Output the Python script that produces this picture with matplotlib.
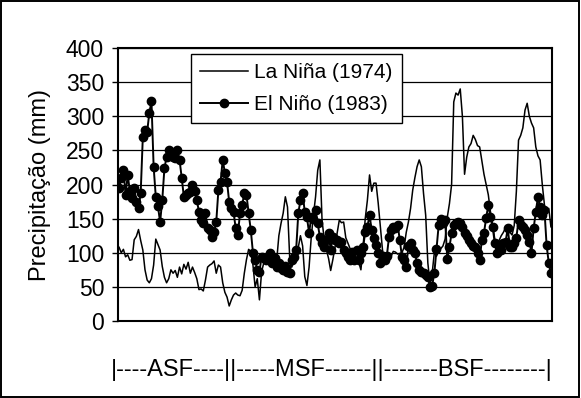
import matplotlib
matplotlib.use("Agg")
import matplotlib.pyplot as plt
import matplotlib.patches as patches
import numpy as np

plt.rcParams['font.family'] = ['Liberation Sans', 'DejaVu Sans']

# precipitation (mm) per station, ordered along the ASF / MSF / BSF regions
la_nina_1974 = [
    108, 100, 105, 94, 97, 89, 90, 119, 124, 134,
    118, 104, 75, 60, 56, 62, 82, 120, 112, 104,
    80, 64, 56, 62, 75, 70, 74, 64, 79, 69,
    83, 76, 86, 70, 79, 71, 62, 46, 47, 44,
    60, 79, 82, 84, 88, 70, 82, 79, 56, 42,
    35, 22, 31, 38, 41, 38, 37, 45, 70, 90,
    105, 102, 82, 50, 62, 31, 72, 85, 89, 93,
    100, 90, 82, 89, 125, 143, 158, 182, 167, 94,
    79, 88, 100, 108, 125, 110, 65, 52, 79, 123,
    155, 182, 221, 236, 148, 119, 104, 92, 74, 90,
    108, 129, 148, 144, 145, 122, 114, 106, 100, 96,
    90, 86, 75, 108, 150, 177, 214, 190, 202, 202,
    173, 138, 104, 90, 98, 97, 95, 102, 101, 98,
    99, 100, 108, 130, 145, 165, 192, 210, 226, 236,
    226, 187, 155, 85, 55, 70, 100, 95, 102, 106,
    110, 120, 152, 172, 200, 321, 334, 331, 340, 300,
    215, 240, 255, 260, 272, 266, 257, 255, 235, 215,
    200, 185, 160, 140, 120, 114, 118, 125, 130, 137,
    129, 130, 126, 140, 190, 265, 272, 283, 309, 319,
    300, 290, 283, 255, 242, 236, 200, 170, 160, 165,
    138,
]

el_nino_1983 = [
    195, 210, 221, 185, 214, 190, 180, 195, 174, 165,
    187, 270, 280, 277, 305, 322, 226, 182, 168, 145,
    177, 224, 240, 250, 245, 241, 239, 250, 236, 210,
    182, 185, 187, 189, 200, 190, 177, 160, 148, 143,
    158, 136, 133, 123, 130, 145, 192, 204, 236, 217,
    204, 174, 165, 160, 136, 126, 158, 170, 187, 185,
    158, 133, 100, 89, 75, 72, 94, 92, 90, 94,
    100, 85, 92, 79, 85, 78, 75, 80, 72, 70,
    89, 94, 104, 158, 177, 187, 160, 152, 129, 152,
    150, 163, 143, 123, 114, 108, 119, 129, 104, 123,
    119, 119, 114, 116, 104, 100, 94, 89, 101, 89,
    104, 89, 100, 108, 130, 138, 155, 133, 122, 111,
    100, 85, 95, 89, 95, 123, 133, 138, 136, 141,
    119, 94, 90, 79, 110, 114, 104, 100, 85, 75,
    72, 70, 68, 64, 50, 52, 70, 105, 140, 150,
    143, 148, 91, 108, 129, 141, 143, 145, 143, 138,
    129, 124, 119, 114, 110, 108, 100, 89, 119, 129,
    151, 170, 152, 138, 114, 100, 110, 104, 114, 116,
    136, 108, 108, 114, 122, 148, 141, 138, 133, 126,
    116, 100, 136, 160, 182, 167, 155, 163, 111, 85,
    70,
]

y_ticks = [0, 50, 100, 150, 200, 250, 300, 350, 400]
region_text = "|----ASF----||-----MSF------||-------BSF--------|"

x = np.arange(len(el_nino_1983))

fig = plt.figure(figsize=(5.81, 3.98), dpi=100)
ax = fig.add_axes([118 / 581, 1 - 321 / 398, 434 / 581, 273 / 398])

ax.plot(x, la_nina_1974, color='black', lw=1.1, label='La Niña (1974)', zorder=3)
ax.plot(x, el_nino_1983, color='black', lw=1.4, marker='o', markersize=6,
        label='El Niño (1983)', zorder=4)

ax.set_ylim(0, 400)
ax.set_xlim(-0.5, len(x) - 0.5)
ax.set_yticks(y_ticks)
ax.set_xticks([])
ax.yaxis.grid(True, color='black', lw=0.9)
ax.set_axisbelow(True)
ax.tick_params(axis='y', direction='out', length=4, width=1, pad=6, labelsize=16.5)
for s in ax.spines.values():
    s.set_linewidth(1.5)
    s.set_color('black')

leg = ax.legend(loc='upper left', bbox_to_anchor=(0.168, 0.978), fontsize=15,
                frameon=True, fancybox=False, edgecolor='black', framealpha=1,
                handlelength=2.3, borderpad=0.45, labelspacing=0.6,
                handletextpad=0.3, borderaxespad=0)
leg.get_frame().set_linewidth(1.0)

fig.text(40 / 581, 1 - 185 / 398, 'Precipitação (mm)', rotation=90,
         ha='center', va='center', fontsize=17)
fig.text(332 / 581, 1 - 370 / 398, region_text, ha='center', va='center',
         fontsize=17)

fig.patches.append(patches.Rectangle((0.002, 0.003), 0.995, 0.994, fill=False,
                                     edgecolor='black', lw=1.4,
                                     transform=fig.transFigure, figure=fig))

fig.savefig('out.png', dpi=100)
